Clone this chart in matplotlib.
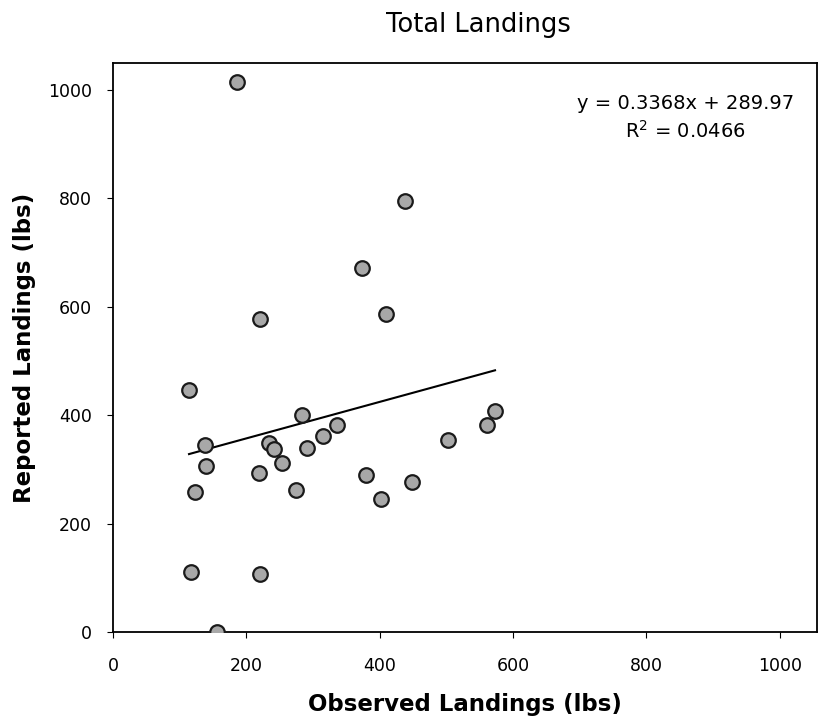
import matplotlib.pyplot as plt
import numpy as np

# values
observed = [186, 438, 374, 409, 220, 114, 283, 138, 336, 234, 242, 254, 315, 291,
            140, 219, 123, 274, 379, 402, 448, 502, 561, 573, 117, 220, 156]
reported = [1015, 795, 672, 587, 577, 447, 400, 345, 382, 348, 338, 312, 361, 339,
            306, 293, 258, 262, 290, 245, 277, 354, 382, 408, 111, 107, 0]
slope = 0.3368
intercept = 289.97
r2 = 0.0466

fig = plt.figure(figsize=(8.19, 7.21), dpi=100)
ax = fig.add_axes([0.138, 0.1234, 0.8596, 0.7892])

ax.scatter(observed, reported, s=110, c='#a8a8a8', edgecolors='#1a1a1a',
           linewidths=1.6, zorder=3)

xs = np.array([min(observed), max(observed)])
ax.plot(xs, slope * xs + intercept, color='black', lw=1.5, zorder=2)

ax.text(0.813, 0.928, 'y = {:.4f}x + {:.2f}'.format(slope, intercept),
        transform=ax.transAxes, ha='center', va='center', fontsize=14)
ax.text(0.813, 0.880, '$\\mathregular{R^2}$ = ' + '{:.4f}'.format(r2),
        transform=ax.transAxes, ha='center', va='center', fontsize=14)

ax.set_xlim(0, 1056)
ax.set_ylim(0, 1050)
ax.set_xticks(range(0, 1001, 200))
ax.set_yticks(range(0, 1001, 200))
ax.tick_params(labelsize=12.5, direction='out', length=4)
ax.tick_params(axis='x', pad=14)
ax.tick_params(axis='y', pad=11)
for s in ['left', 'bottom', 'top', 'right']:
    ax.spines[s].set_linewidth(1.3)

fig.suptitle('Total Landings', x=0.584, y=0.983, fontsize=18.5)
ax.set_xlabel('Observed Landings (lbs)', fontsize=16.5, fontweight='bold')
ax.set_ylabel('Reported Landings (lbs)', fontsize=16.5, fontweight='bold')
ax.xaxis.set_label_coords(0.5, -0.108)
ax.yaxis.set_label_coords(-0.11, 0.5)

fig.savefig('out.png', dpi=100)
